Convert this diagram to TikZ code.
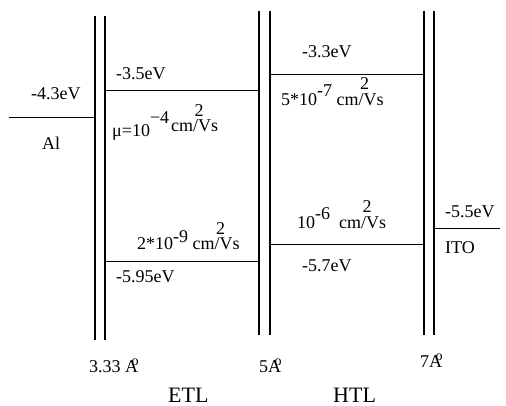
\documentclass[tikz,border=0pt]{standalone}
\usepackage{fontspec}
\setmainfont{Liberation Serif}
\newcommand{\rsup}[2]{\raisebox{#1}{#2}}
\newcommand{\angs}{A\llap{\raisebox{6.5pt}{\fontsize{14}{14}\selectfont o}\kern-0.5pt}}
\begin{document}
\begin{tikzpicture}[x=1pt,y=-1pt,
  wall/.style={line width=1.5pt},
  level/.style={line width=0.8pt},
  lbl/.style={anchor=base west, inner sep=0pt, font=\fontsize{18}{20}\selectfont},
  big/.style={anchor=base west, inner sep=0pt, font=\fontsize{22}{24}\selectfont}]
\useasboundingbox (0,0) rectangle (506,406);
% walls
\coordinate (w1t) at (95,16);  \coordinate (w1b) at (95,340);
\coordinate (w2t) at (105,16); \coordinate (w2b) at (105,340);
\coordinate (w3t) at (259,11); \coordinate (w3b) at (259,335);
\coordinate (w4t) at (270,11); \coordinate (w4b) at (270,335);
\coordinate (w5t) at (424,11); \coordinate (w5b) at (424,335);
\coordinate (w6t) at (434,11); \coordinate (w6b) at (434,335);
\draw[wall] (w1t) -- (w1b);
\draw[wall] (w2t) -- (w2b);
\draw[wall] (w3t) -- (w3b);
\draw[wall] (w4t) -- (w4b);
\draw[wall] (w5t) -- (w5b);
\draw[wall] (w6t) -- (w6b);
% levels
\coordinate (al1) at (9,117);   \coordinate (al2) at (95,117);
\coordinate (el1) at (105,90);  \coordinate (el2) at (259,90);
\coordinate (eh1) at (105,261); \coordinate (eh2) at (259,261);
\coordinate (hl1) at (270,74);  \coordinate (hl2) at (424,74);
\coordinate (hh1) at (270,244); \coordinate (hh2) at (424,244);
\coordinate (it1) at (434,228); \coordinate (it2) at (500,228);
\draw[level] (al1) -- (al2);
\draw[level] (el1) -- (el2);
\draw[level] (eh1) -- (eh2);
\draw[level] (hl1) -- (hl2);
\draw[level] (hh1) -- (hh2);
\draw[level] (it1) -- (it2);
% labels
\node[lbl] (t43) at (31,100) {-4.3eV};
\node[lbl] (tal) at (42,150) {Al};
\node[lbl] (t35) at (116,80) {-3.5eV};
\node[lbl] (mu1) at (112,137) {μ=10\rsup{13pt}{−4}\kern2pt\rsup{5pt}{cm\rlap{\kern1.5pt\rsup{15pt}{2}}/Vs}};
\node[lbl] (t33) at (302,58) {-3.3eV};
\node[lbl] (mu2) at (281,106) {5*10\rsup{9pt}{-7} cm\rlap{\kern1.5pt\rsup{16pt}{2}}/Vs};
\node[lbl] (mu3) at (137,250) {2*10\rsup{7pt}{-9} cm\rlap{\kern1.5pt\rsup{15pt}{2}}/Vs};
\node[lbl] (t595) at (116,282) {-5.95eV};
\node[lbl] (mu4) at (297,229) {10\rsup{9pt}{-6}\ \ cm\rlap{\kern1.5pt\rsup{16pt}{2}}/Vs};
\node[lbl] (t57) at (302,271) {-5.7eV};
\node[lbl] (t55) at (445,218) {-5.5eV};
\node[lbl] (tito) at (445,254) {ITO};
\node[lbl] (d1) at (89,372) {3.33 \angs};
\node[lbl] (d2) at (259,372) {5\angs};
\node[lbl] (d3) at (420,367) {7\angs};
\node[big] (etl) at (168,402) {ETL};
\node[big] (htl) at (333,402) {HTL};
\end{tikzpicture}
\end{document}
